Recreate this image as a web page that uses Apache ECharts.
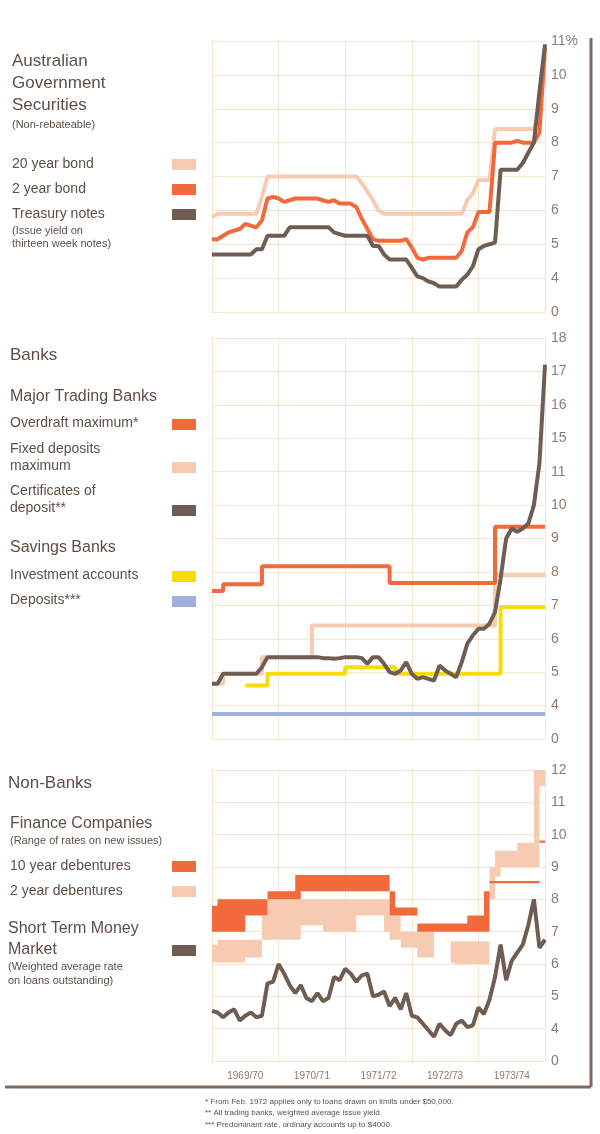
<!DOCTYPE html>
<html><head><meta charset="utf-8">
<script src="https://cdn.jsdelivr.net/npm/echarts@6/dist/echarts.min.js"></script>
<style>html,body{margin:0;padding:0;background:#fff}#c{width:600px;height:1134px}</style>
</head><body><div id="c"></div>
<script>
// months from July 1969 (0) to June 1974 (60)
const months = Array.from({length:61}, (_, i) => i);
const yearLabels = ['1969/70','1970/71','1971/72','1972/73','1973/74'];
// Australian Government Securities
const bond20 = [5.8,5.9,5.9,5.9,5.9,5.9,5.9,5.9,5.9,6.4,
 7.0,7.0,7.0,7.0,7.0,7.0,7.0,7.0,7.0,7.0,7.0,7.0,7.0,7.0,7.0,7.0,7.0,
 6.8,6.55,6.3,6.0,
 5.9,5.9,5.9,5.9,5.9,5.9,5.9,5.9,5.9,5.9,5.9,5.9,5.9,5.9,5.9,
 6.3,6.5,6.9,6.9,6.9,8.4,8.4,8.4,8.4,8.4,8.4,8.4,8.4,9.0,10.5];
const bond2 = [5.15,5.15,5.25,5.35,5.4,5.45,5.6,5.55,5.5,5.7,6.35,6.4,6.35,6.25,6.3,6.35,6.35,6.35,6.35,6.35,6.3,6.25,6.3,6.2,6.2,6.2,
 6.1,5.75,5.45,5.15,5.1,5.1,5.1,5.1,5.1,5.15,4.9,4.6,4.55,4.6,4.6,4.6,4.6,4.6,4.6,4.8,5.35,5.5,5.95,5.95,5.95,8.0,8.0,8.0,8.0,8.05,8.0,8.0,8.0,8.3,10.8];
const tnotes = [4.7,4.7,4.7,4.7,4.7,4.7,4.7,4.7,4.85,4.85,5.25,5.25,5.25,5.25,5.5,5.5,5.5,5.5,5.5,5.5,5.5,5.5,5.35,5.3,
 5.25,5.25,5.25,5.25,5.25,4.95,4.95,4.7,4.55,4.55,4.55,4.55,4.3,4.05,4.0,3.9,3.85,3.75,3.75,3.75,3.75,3.95,4.1,4.35,4.85,4.95,5.0,5.05,
 7.2,7.2,7.2,7.2,7.4,7.7,8.0,9.5,10.9];
// Banks
const overdraft = [7.43,7.43,7.63,7.63,7.63,7.63,7.63,7.63,7.63,
 8.17,8.17,8.17,8.17,8.17,8.17,8.17,8.17,8.17,8.17,8.17,8.17,8.17,8.17,8.17,8.17,8.17,8.17,8.17,8.17,8.17,8.17,8.17,
 7.67,7.67,7.67,7.67,7.67,7.67,7.67,7.67,7.67,7.67,7.67,7.67,7.67,7.67,7.67,7.67,7.67,7.67,7.67,
 9.35,9.35,9.35,9.35,9.35,9.35,9.35,9.35,9.35,9.35];
const fixedDep = [4.65,4.65,4.95,4.95,4.95,4.95,4.95,4.95,4.95,5.45,5.45,5.45,5.45,5.45,5.45,5.45,5.45,5.45,
 6.4,6.4,6.4,6.4,6.4,6.4,6.4,6.4,6.4,6.4,6.4,6.4,6.4,6.4,6.4,6.4,6.4,6.4,6.4,6.4,6.4,6.4,6.4,6.4,6.4,6.4,6.4,6.4,6.4,6.4,6.4,6.4,6.4,
 7.9,7.9,7.9,7.9,7.9,7.9,7.9,7.9,7.9,7.9];
const certDep = [4.65,4.65,4.95,4.95,4.95,4.95,4.95,4.95,4.95,5.15,5.45,5.45,5.45,5.45,5.45,5.45,5.45,5.45,5.45,5.45,
 5.42,5.42,5.4,5.42,5.45,5.45,5.45,5.42,5.25,5.45,5.45,5.25,5.0,4.95,5.05,5.3,4.95,4.8,4.85,4.8,4.75,5.2,5.05,4.95,4.85,
 5.3,5.85,6.1,6.3,6.3,6.45,6.8,7.8,9.0,9.3,9.2,9.3,9.45,10.0,12.0,17.2];
const investAcc = ['-','-','-','-','-','-',4.6,4.6,4.6,4.6,4.95,4.95,4.95,4.95,4.95,4.95,4.95,4.95,4.95,4.95,4.95,4.95,4.95,4.95,
 5.15,5.15,5.15,5.15,5.15,5.15,5.15,5.15,5.15,4.95,4.95,4.95,4.95,4.95,4.95,4.95,4.95,4.95,4.95,4.95,4.95,4.95,4.95,4.95,4.95,4.95,4.95,4.95,
 6.95,6.95,6.95,6.95,6.95,6.95,6.95,6.95,6.95];
const savDep = Array(61).fill(3.75);
// Non-Banks
const deb2Low = [6.05,6.05,6.05,6.05,6.05,6.05,6.2,6.2,6.2,6.75,6.75,6.75,6.75,6.75,6.75,6.75,7.2,7.2,7.2,7.2,7.0,7.0,7.0,7.0,7.0,7.0,
 7.5,7.5,7.5,7.5,7.5,7.0,6.75,6.75,6.5,6.5,6.5,6.2,6.2,6.2,'-','-','-',6.05,6.0,6.0,6.0,6.0,6.0,6.0,8.0,8.7,9.0,9.0,9.0,9.0,9.0,9.0,9.0,11.5,11.5];
const deb2High = [6.6,6.75,6.75,6.75,6.75,6.75,6.75,6.75,6.75,7.5,8.0,8.0,8.0,8.0,8.0,8.0,8.0,8.0,8.0,8.0,8.0,8.0,8.0,8.0,8.0,8.0,
 8.0,8.0,8.0,8.0,8.0,8.0,7.5,7.5,7.0,7.0,7.0,7.0,7.0,7.0,'-','-','-',6.7,6.7,6.7,6.7,6.7,6.7,6.7,9.0,9.5,9.5,9.5,9.5,9.75,9.75,9.75,12.0,12.0,12.0];
const deb10Low = [7.0,7.0,7.0,7.0,7.0,7.0,7.5,7.5,7.5,7.5,8.0,8.0,8.0,8.0,8.0,8.0,
 8.25,8.25,8.25,8.25,8.25,8.25,8.25,8.25,8.25,8.25,8.25,8.25,8.25,8.25,8.25,8.25,
 7.5,7.5,7.5,7.5,7.5,7.0,7.0,7.0,7.0,7.0,7.0,7.0,7.0,7.0,7.0,7.0,7.0,7.0,8.5,8.5,8.5,8.5,8.5,8.5,8.5,8.5,8.5,9.75,9.75];
const deb10High = [7.8,8.0,8.0,8.0,8.0,8.0,8.0,8.0,8.0,8.0,8.25,8.25,8.25,8.25,8.25,8.75,
 8.75,8.75,8.75,8.75,8.75,8.75,8.75,8.75,8.75,8.75,8.75,8.75,8.75,8.75,8.75,8.75,
 8.25,7.75,7.75,7.75,7.75,7.25,7.25,7.25,7.25,7.25,7.25,7.25,7.25,7.25,7.5,7.5,7.5,8.25,8.57,8.57,8.57,8.57,8.57,8.57,8.57,8.57,8.57,9.82,9.82];
const moneyMkt = [4.55,4.5,4.35,4.5,4.6,4.25,4.4,4.5,4.35,4.4,5.4,5.45,6.0,5.7,5.35,5.1,5.35,4.95,4.85,5.1,
 4.85,4.95,5.6,5.5,5.85,5.7,5.45,5.65,5.7,5.0,5.05,5.15,4.7,4.95,4.6,5.1,4.4,4.35,4.15,3.95,
 3.75,4.15,3.95,3.8,4.15,4.25,4.05,4.1,4.65,4.45,4.9,5.6,6.6,5.5,6.1,6.35,6.6,7.2,8.0,6.5,6.75];

const C = {org:'#f26a3c', pink:'#f6cbb2', dark:'#6f5d54', yel:'#f7dc0a', blue:'#9fb0de', grid:'#f3e6cb', txt:'#5e4e46', ax:'#8c7b70'};
// broken axis in the Banks panel: 11..15 compressed into one unit, >=15 shifted down by 3
const bankMap = v => v==='-'?'-':(v<=11? v : v<15? 11+(v-11)/4 : v-3);
const bank = a => a.map(bankMap);
const diff = (h,l) => h.map((v,i)=> (v==='-'||l[i]==='-')?'-':+(v-l[i]).toFixed(3));

const grids = [
  {left:212, right:55, top:41, height:271},
  {left:212, right:55, top:338, height:401},
  {left:212, right:55, top:770, height:291}
];
const xAx = (g, labels) => ({type:'category', gridIndex:g, data:months, boundaryGap:false,
  axisLine:{show:false}, axisTick:{show:false, interval:11},
  axisLabel: labels ? {show:true, color:C.ax, fontSize:10, fontFamily:'Liberation Sans', margin:10,
      interval:(i)=> i%12===6, formatter:(v,i)=> yearLabels[Math.floor(i/12)]} : {show:false},
  splitLine:{show:true, interval:11, lineStyle:{color:C.grid, width:1}}});
const yAx = (g,max,fmt) => ({type:'value', gridIndex:g, position:'right', min:3, max:max, interval:1,
  axisLine:{show:false}, axisTick:{show:false},
  axisLabel:{color:C.ax, fontSize:14, fontFamily:'Liberation Sans', margin:6, formatter:fmt},
  splitLine:{show:true, lineStyle:{color:C.grid, width:1}}});

const line = (name,data,color,g,w,step,z) => ({name, type:'line', xAxisIndex:g, yAxisIndex:g, data, showSymbol:false,
  step: step||false, lineStyle:{color, width:w}, itemStyle:{color}, z:z||2, silent:true});
const band = (name,low,high,color,stack,z) => [
  {name:name+'-base', type:'line', xAxisIndex:2, yAxisIndex:2, stack, data:low, step:'end', showSymbol:false,
   lineStyle:{width:0}, areaStyle:{opacity:0}, z, silent:true},
  {name, type:'line', xAxisIndex:2, yAxisIndex:2, stack, data:diff(high,low), step:'end', showSymbol:false,
   lineStyle:{width:0}, areaStyle:{color, opacity:1}, z, silent:true}
];

const T = (x,y,text,size,color) => ({type:'text', left:x, top:y, style:{text, fontSize:size, fill:color||C.txt, fontFamily:'Liberation Sans'}});
const S = (y,color) => ({type:'rect', shape:{x:172, y:y, width:24, height:11}, style:{fill:color}});
const graphics = [
  T(12,53,'Australian',17), T(12,75,'Government',17), T(12,97,'Securities',17), T(12,119,'(Non-rebateable)',11),
  T(12,157,'20 year bond',14), S(159,C.pink),
  T(12,182,'2 year bond',14), S(184,C.org),
  T(12,207,'Treasury notes',14), S(209,C.dark),
  T(12,225,'(Issue yield on',11), T(12,238,'thirteen week notes)',11),
  T(10,347,'Banks',17),
  T(10,389,'Major Trading Banks',16),
  T(10,416,'Overdraft maximum*',14), S(419,C.org),
  T(10,442,'Fixed deposits',14), T(10,459,'maximum',14), S(462,C.pink),
  T(10,484,'Certificates of',14), T(10,501,'deposit**',14), S(505,C.dark),
  T(10,540,'Savings Banks',16),
  T(10,568,'Investment accounts',14), S(571,C.yel),
  T(10,593,'Deposits***',14), S(596,C.blue),
  T(8,775,'Non-Banks',17),
  T(10,816,'Finance Companies',16), T(10,835,'(Range of rates on new issues)',11),
  T(10,859,'10 year debentures',14), S(861,C.org),
  T(10,884,'2 year debentures',14), S(886,C.pink),
  T(8,921,'Short Term Money',16), T(8,942,'Market',16), S(945,C.dark),
  T(8,961,'(Weighted average rate',11), T(8,975,'on loans outstanding)',11),
  T(205,1098,'* From Feb. 1972 applies only to loans drawn on limits under $50,000.',8),
  T(205,1109,'** All trading banks, weighted average issue yield.',8),
  T(205,1121,'*** Predominant rate, ordinary accounts up to $4000.',8),
  {type:'line', shape:{x1:591, y1:38, x2:591, y2:1087}, style:{stroke:'#7d6b61', lineWidth:3}},
  {type:'line', shape:{x1:5, y1:1087, x2:591, y2:1087}, style:{stroke:'#7d6b61', lineWidth:3}}
];

const option = {
  backgroundColor:'#fff', animation:false,
  grid: grids,
  xAxis: [xAx(0,false), xAx(1,false), xAx(2,true)],
  yAxis: [
    yAx(0,11, v => v===3?'0':(v===11?'11%':String(v))),
    yAx(1,15, v => v===3?'0':String(v<=11?v:v+3)),
    yAx(2,12, v => v===3?'0':String(v))
  ],
  series: [
    line('20 year bond', bond20, C.pink, 0, 4, false, 2),
    line('2 year bond', bond2, C.org, 0, 4, false, 3),
    line('Treasury notes', tnotes, C.dark, 0, 4, false, 4),
    line('Deposits', bank(savDep), C.blue, 1, 4, 'end', 2),
    line('Fixed deposits maximum', bank(fixedDep), C.pink, 1, 4, 'end', 2),
    line('Investment accounts', bank(investAcc), C.yel, 1, 4, 'end', 3),
    line('Overdraft maximum', bank(overdraft), C.org, 1, 4, 'end', 3),
    line('Certificates of deposit', bank(certDep), C.dark, 1, 4, false, 5),
    ...band('2 year debentures', deb2Low, deb2High, C.pink, 'd2', 2),
    ...band('10 year debentures', deb10Low, deb10High, C.org, 'd10', 3),
    line('Short Term Money Market', moneyMkt, C.dark, 2, 4, false, 5)
  ],
  graphic: graphics
};
const chart = echarts.init(document.getElementById('c'));
chart.setOption(option);
</script></body></html>
